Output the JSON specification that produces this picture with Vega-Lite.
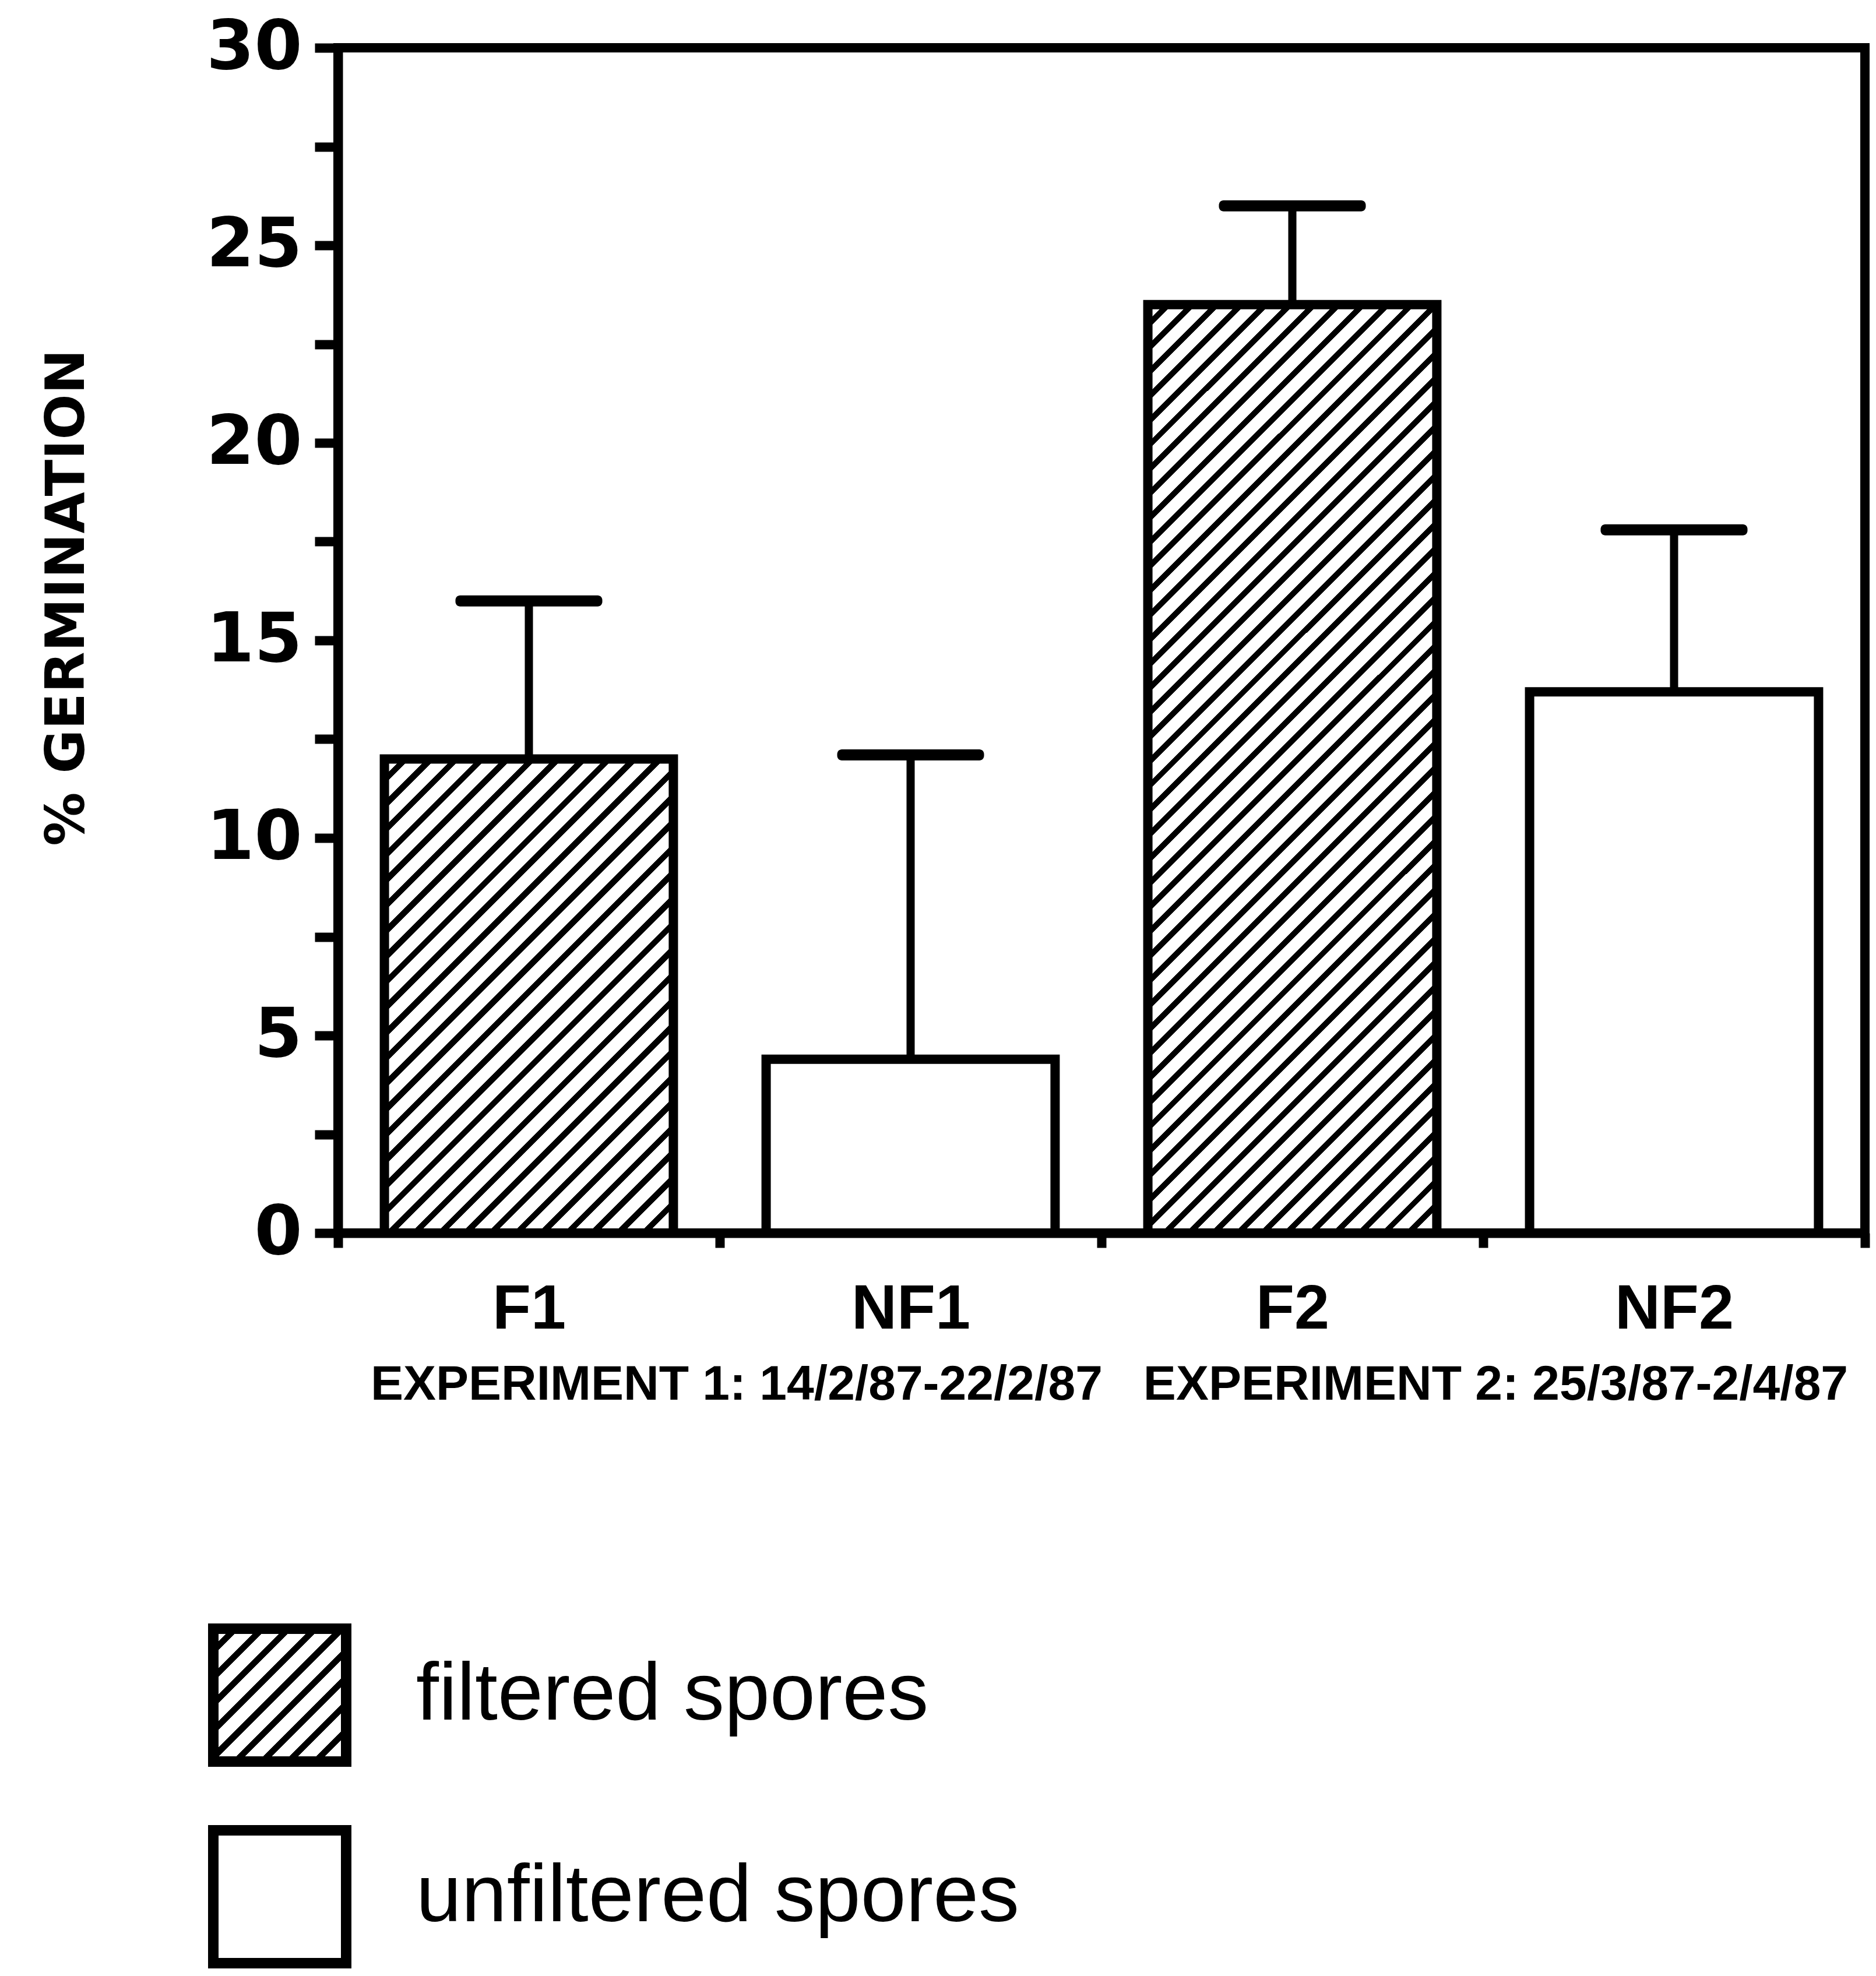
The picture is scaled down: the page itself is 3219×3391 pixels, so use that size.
{
  "$schema": "https://vega.github.io/schema/vega-lite/v6.json",
  "width": 2620,
  "height": 2034,
  "autosize": "none",
  "padding": {"left": 580, "top": 82, "right": 19, "bottom": 1275},
  "background": "white",
  "data": {
    "values": [
      {"cat": "F1", "group": "filtered spores", "value": 12, "upper": 16},
      {"cat": "NF1", "group": "unfiltered spores", "value": 4.4, "upper": 12.1},
      {"cat": "F2", "group": "filtered spores", "value": 23.5, "upper": 26},
      {"cat": "NF2", "group": "unfiltered spores", "value": 13.7, "upper": 17.8}
    ]
  },
  "encoding": {
    "x": {
      "field": "cat",
      "type": "nominal",
      "sort": ["F1", "NF1", "F2", "NF2"],
      "scale": {"paddingInner": 0, "paddingOuter": 0},
      "axis": {
        "title": "EXPERIMENT 1: 14/2/87-22/2/87\u00a0\u00a0\u00a0EXPERIMENT 2: 25/3/87-2/4/87",
        "tickBand": "extent",
        "labelAngle": 0,
        "labelLimit": 0,
        "domainColor": "black",
        "domainWidth": 16,
        "tickColor": "black",
        "tickWidth": 16,
        "tickSize": 25,
        "labelFont": "Liberation Sans Narrow, Liberation Sans",
        "labelFontWeight": "bold",
        "labelFontSize": 108,
        "labelColor": "black",
        "labelPadding": 53,
        "titleFont": "Liberation Sans",
        "titleFontWeight": "bold",
        "titleFontSize": 84,
        "titleColor": "black",
        "titlePadding": 34,
        "titleX": 1323
      }
    }
  },
  "layer": [
    {
      "mark": {"type": "bar", "stroke": "black", "strokeWidth": 16, "strokeJoin": "miter", "width": {"band": 0.757}},
      "encoding": {
        "y": {
          "field": "value",
          "type": "quantitative",
          "title": "% GERMINATION",
          "scale": {"domain": [0, 30], "nice": false},
          "axis": {
            "values": [0, 2.5, 5, 7.5, 10, 12.5, 15, 17.5, 20, 22.5, 25, 27.5, 30],
            "labelExpr": "datum.value % 5 === 0 ? format(datum.value, 'd') : ''",
            "grid": false,
            "domainColor": "black",
            "domainWidth": 16,
            "tickColor": "black",
            "tickWidth": 16,
            "tickSize": 40,
            "labelOverlap": false,
            "labelFlush": false,
            "labelFont": "DejaVu Sans",
            "labelFontWeight": "bold",
            "labelFontSize": 118,
            "labelColor": "black",
            "labelPadding": 22,
            "titleFont": "DejaVu Sans",
            "titleFontWeight": "bold",
            "titleFontSize": 92,
            "titleColor": "black",
            "titlePadding": 218,
            "titleY": 943
          }
        },
        "fill": {
          "field": "group",
          "type": "nominal",
          "scale": {
            "domain": ["filtered spores", "unfiltered spores"],
            "range": [
              {"expr": "{gradient: 'linear', x1: 0, y1: 0, x2: 1, y2: 1, stops: [{offset: 0, color: '#fff'}, {offset: 0.06667, color: '#fff'}, {offset: 0.06667, color: '#000'}, {offset: 0.1, color: '#000'}, {offset: 0.1, color: '#fff'}, {offset: 0.16667, color: '#fff'}, {offset: 0.16667, color: '#000'}, {offset: 0.2, color: '#000'}, {offset: 0.2, color: '#fff'}, {offset: 0.26667, color: '#fff'}, {offset: 0.26667, color: '#000'}, {offset: 0.3, color: '#000'}, {offset: 0.3, color: '#fff'}, {offset: 0.36667, color: '#fff'}, {offset: 0.36667, color: '#000'}, {offset: 0.4, color: '#000'}, {offset: 0.4, color: '#fff'}, {offset: 0.46667, color: '#fff'}, {offset: 0.46667, color: '#000'}, {offset: 0.5, color: '#000'}, {offset: 0.5, color: '#fff'}, {offset: 0.56667, color: '#fff'}, {offset: 0.56667, color: '#000'}, {offset: 0.6, color: '#000'}, {offset: 0.6, color: '#fff'}, {offset: 0.66667, color: '#fff'}, {offset: 0.66667, color: '#000'}, {offset: 0.7, color: '#000'}, {offset: 0.7, color: '#fff'}, {offset: 0.76667, color: '#fff'}, {offset: 0.76667, color: '#000'}, {offset: 0.8, color: '#000'}, {offset: 0.8, color: '#fff'}, {offset: 0.86667, color: '#fff'}, {offset: 0.86667, color: '#000'}, {offset: 0.9, color: '#000'}, {offset: 0.9, color: '#fff'}, {offset: 0.96667, color: '#fff'}, {offset: 0.96667, color: '#000'}, {offset: 1, color: '#000'}]}"},
              "white"
            ]
          },
          "condition": [
            {
              "test": "datum.cat === 'F1'",
              "value": {
                "gradient": "linear", "x1": 0, "y1": 0, "x2": 0.7152, "y2": 1.1736,
                "stops": [
                  {"offset": 0, "color": "#fff"}, {"offset": 0.02222, "color": "#fff"}, {"offset": 0.02222, "color": "#000"}, {"offset": 0.03333, "color": "#000"},
                  {"offset": 0.03333, "color": "#fff"}, {"offset": 0.05556, "color": "#fff"}, {"offset": 0.05556, "color": "#000"}, {"offset": 0.06667, "color": "#000"},
                  {"offset": 0.06667, "color": "#fff"}, {"offset": 0.08889, "color": "#fff"}, {"offset": 0.08889, "color": "#000"}, {"offset": 0.1, "color": "#000"},
                  {"offset": 0.1, "color": "#fff"}, {"offset": 0.12222, "color": "#fff"}, {"offset": 0.12222, "color": "#000"}, {"offset": 0.13333, "color": "#000"},
                  {"offset": 0.13333, "color": "#fff"}, {"offset": 0.15556, "color": "#fff"}, {"offset": 0.15556, "color": "#000"}, {"offset": 0.16667, "color": "#000"},
                  {"offset": 0.16667, "color": "#fff"}, {"offset": 0.18889, "color": "#fff"}, {"offset": 0.18889, "color": "#000"}, {"offset": 0.2, "color": "#000"},
                  {"offset": 0.2, "color": "#fff"}, {"offset": 0.22222, "color": "#fff"}, {"offset": 0.22222, "color": "#000"}, {"offset": 0.23333, "color": "#000"},
                  {"offset": 0.23333, "color": "#fff"}, {"offset": 0.25556, "color": "#fff"}, {"offset": 0.25556, "color": "#000"}, {"offset": 0.26667, "color": "#000"},
                  {"offset": 0.26667, "color": "#fff"}, {"offset": 0.28889, "color": "#fff"}, {"offset": 0.28889, "color": "#000"}, {"offset": 0.3, "color": "#000"},
                  {"offset": 0.3, "color": "#fff"}, {"offset": 0.32222, "color": "#fff"}, {"offset": 0.32222, "color": "#000"}, {"offset": 0.33333, "color": "#000"},
                  {"offset": 0.33333, "color": "#fff"}, {"offset": 0.35556, "color": "#fff"}, {"offset": 0.35556, "color": "#000"}, {"offset": 0.36667, "color": "#000"},
                  {"offset": 0.36667, "color": "#fff"}, {"offset": 0.38889, "color": "#fff"}, {"offset": 0.38889, "color": "#000"}, {"offset": 0.4, "color": "#000"},
                  {"offset": 0.4, "color": "#fff"}, {"offset": 0.42222, "color": "#fff"}, {"offset": 0.42222, "color": "#000"}, {"offset": 0.43333, "color": "#000"},
                  {"offset": 0.43333, "color": "#fff"}, {"offset": 0.45556, "color": "#fff"}, {"offset": 0.45556, "color": "#000"}, {"offset": 0.46667, "color": "#000"},
                  {"offset": 0.46667, "color": "#fff"}, {"offset": 0.48889, "color": "#fff"}, {"offset": 0.48889, "color": "#000"}, {"offset": 0.5, "color": "#000"},
                  {"offset": 0.5, "color": "#fff"}, {"offset": 0.52222, "color": "#fff"}, {"offset": 0.52222, "color": "#000"}, {"offset": 0.53333, "color": "#000"},
                  {"offset": 0.53333, "color": "#fff"}, {"offset": 0.55556, "color": "#fff"}, {"offset": 0.55556, "color": "#000"}, {"offset": 0.56667, "color": "#000"},
                  {"offset": 0.56667, "color": "#fff"}, {"offset": 0.58889, "color": "#fff"}, {"offset": 0.58889, "color": "#000"}, {"offset": 0.6, "color": "#000"},
                  {"offset": 0.6, "color": "#fff"}, {"offset": 0.62222, "color": "#fff"}, {"offset": 0.62222, "color": "#000"}, {"offset": 0.63333, "color": "#000"},
                  {"offset": 0.63333, "color": "#fff"}, {"offset": 0.65556, "color": "#fff"}, {"offset": 0.65556, "color": "#000"}, {"offset": 0.66667, "color": "#000"},
                  {"offset": 0.66667, "color": "#fff"}, {"offset": 0.68889, "color": "#fff"}, {"offset": 0.68889, "color": "#000"}, {"offset": 0.7, "color": "#000"},
                  {"offset": 0.7, "color": "#fff"}, {"offset": 0.72222, "color": "#fff"}, {"offset": 0.72222, "color": "#000"}, {"offset": 0.73333, "color": "#000"},
                  {"offset": 0.73333, "color": "#fff"}, {"offset": 0.75556, "color": "#fff"}, {"offset": 0.75556, "color": "#000"}, {"offset": 0.76667, "color": "#000"},
                  {"offset": 0.76667, "color": "#fff"}, {"offset": 0.78889, "color": "#fff"}, {"offset": 0.78889, "color": "#000"}, {"offset": 0.8, "color": "#000"},
                  {"offset": 0.8, "color": "#fff"}, {"offset": 0.82222, "color": "#fff"}, {"offset": 0.82222, "color": "#000"}, {"offset": 0.83333, "color": "#000"},
                  {"offset": 0.83333, "color": "#fff"}, {"offset": 0.85556, "color": "#fff"}, {"offset": 0.85556, "color": "#000"}, {"offset": 0.86667, "color": "#000"},
                  {"offset": 0.86667, "color": "#fff"}, {"offset": 0.88889, "color": "#fff"}, {"offset": 0.88889, "color": "#000"}, {"offset": 0.9, "color": "#000"},
                  {"offset": 0.9, "color": "#fff"}, {"offset": 0.92222, "color": "#fff"}, {"offset": 0.92222, "color": "#000"}, {"offset": 0.93333, "color": "#000"},
                  {"offset": 0.93333, "color": "#fff"}, {"offset": 0.95556, "color": "#fff"}, {"offset": 0.95556, "color": "#000"}, {"offset": 0.96667, "color": "#000"},
                  {"offset": 0.96667, "color": "#fff"}, {"offset": 0.98889, "color": "#fff"}, {"offset": 0.98889, "color": "#000"}, {"offset": 1, "color": "#000"}
                ]
              }
            },
            {
              "test": "datum.cat === 'F2'",
              "value": {
                "gradient": "linear", "x1": 0, "y1": 0, "x2": 0.372, "y2": 1.1955,
                "stops": [
                  {"offset": 0, "color": "#fff"}, {"offset": 0.01333, "color": "#fff"}, {"offset": 0.01333, "color": "#000"}, {"offset": 0.02, "color": "#000"},
                  {"offset": 0.02, "color": "#fff"}, {"offset": 0.03333, "color": "#fff"}, {"offset": 0.03333, "color": "#000"}, {"offset": 0.04, "color": "#000"},
                  {"offset": 0.04, "color": "#fff"}, {"offset": 0.05333, "color": "#fff"}, {"offset": 0.05333, "color": "#000"}, {"offset": 0.06, "color": "#000"},
                  {"offset": 0.06, "color": "#fff"}, {"offset": 0.07333, "color": "#fff"}, {"offset": 0.07333, "color": "#000"}, {"offset": 0.08, "color": "#000"},
                  {"offset": 0.08, "color": "#fff"}, {"offset": 0.09333, "color": "#fff"}, {"offset": 0.09333, "color": "#000"}, {"offset": 0.1, "color": "#000"},
                  {"offset": 0.1, "color": "#fff"}, {"offset": 0.11333, "color": "#fff"}, {"offset": 0.11333, "color": "#000"}, {"offset": 0.12, "color": "#000"},
                  {"offset": 0.12, "color": "#fff"}, {"offset": 0.13333, "color": "#fff"}, {"offset": 0.13333, "color": "#000"}, {"offset": 0.14, "color": "#000"},
                  {"offset": 0.14, "color": "#fff"}, {"offset": 0.15333, "color": "#fff"}, {"offset": 0.15333, "color": "#000"}, {"offset": 0.16, "color": "#000"},
                  {"offset": 0.16, "color": "#fff"}, {"offset": 0.17333, "color": "#fff"}, {"offset": 0.17333, "color": "#000"}, {"offset": 0.18, "color": "#000"},
                  {"offset": 0.18, "color": "#fff"}, {"offset": 0.19333, "color": "#fff"}, {"offset": 0.19333, "color": "#000"}, {"offset": 0.2, "color": "#000"},
                  {"offset": 0.2, "color": "#fff"}, {"offset": 0.21333, "color": "#fff"}, {"offset": 0.21333, "color": "#000"}, {"offset": 0.22, "color": "#000"},
                  {"offset": 0.22, "color": "#fff"}, {"offset": 0.23333, "color": "#fff"}, {"offset": 0.23333, "color": "#000"}, {"offset": 0.24, "color": "#000"},
                  {"offset": 0.24, "color": "#fff"}, {"offset": 0.25333, "color": "#fff"}, {"offset": 0.25333, "color": "#000"}, {"offset": 0.26, "color": "#000"},
                  {"offset": 0.26, "color": "#fff"}, {"offset": 0.27333, "color": "#fff"}, {"offset": 0.27333, "color": "#000"}, {"offset": 0.28, "color": "#000"},
                  {"offset": 0.28, "color": "#fff"}, {"offset": 0.29333, "color": "#fff"}, {"offset": 0.29333, "color": "#000"}, {"offset": 0.3, "color": "#000"},
                  {"offset": 0.3, "color": "#fff"}, {"offset": 0.31333, "color": "#fff"}, {"offset": 0.31333, "color": "#000"}, {"offset": 0.32, "color": "#000"},
                  {"offset": 0.32, "color": "#fff"}, {"offset": 0.33333, "color": "#fff"}, {"offset": 0.33333, "color": "#000"}, {"offset": 0.34, "color": "#000"},
                  {"offset": 0.34, "color": "#fff"}, {"offset": 0.35333, "color": "#fff"}, {"offset": 0.35333, "color": "#000"}, {"offset": 0.36, "color": "#000"},
                  {"offset": 0.36, "color": "#fff"}, {"offset": 0.37333, "color": "#fff"}, {"offset": 0.37333, "color": "#000"}, {"offset": 0.38, "color": "#000"},
                  {"offset": 0.38, "color": "#fff"}, {"offset": 0.39333, "color": "#fff"}, {"offset": 0.39333, "color": "#000"}, {"offset": 0.4, "color": "#000"},
                  {"offset": 0.4, "color": "#fff"}, {"offset": 0.41333, "color": "#fff"}, {"offset": 0.41333, "color": "#000"}, {"offset": 0.42, "color": "#000"},
                  {"offset": 0.42, "color": "#fff"}, {"offset": 0.43333, "color": "#fff"}, {"offset": 0.43333, "color": "#000"}, {"offset": 0.44, "color": "#000"},
                  {"offset": 0.44, "color": "#fff"}, {"offset": 0.45333, "color": "#fff"}, {"offset": 0.45333, "color": "#000"}, {"offset": 0.46, "color": "#000"},
                  {"offset": 0.46, "color": "#fff"}, {"offset": 0.47333, "color": "#fff"}, {"offset": 0.47333, "color": "#000"}, {"offset": 0.48, "color": "#000"},
                  {"offset": 0.48, "color": "#fff"}, {"offset": 0.49333, "color": "#fff"}, {"offset": 0.49333, "color": "#000"}, {"offset": 0.5, "color": "#000"},
                  {"offset": 0.5, "color": "#fff"}, {"offset": 0.51333, "color": "#fff"}, {"offset": 0.51333, "color": "#000"}, {"offset": 0.52, "color": "#000"},
                  {"offset": 0.52, "color": "#fff"}, {"offset": 0.53333, "color": "#fff"}, {"offset": 0.53333, "color": "#000"}, {"offset": 0.54, "color": "#000"},
                  {"offset": 0.54, "color": "#fff"}, {"offset": 0.55333, "color": "#fff"}, {"offset": 0.55333, "color": "#000"}, {"offset": 0.56, "color": "#000"},
                  {"offset": 0.56, "color": "#fff"}, {"offset": 0.57333, "color": "#fff"}, {"offset": 0.57333, "color": "#000"}, {"offset": 0.58, "color": "#000"},
                  {"offset": 0.58, "color": "#fff"}, {"offset": 0.59333, "color": "#fff"}, {"offset": 0.59333, "color": "#000"}, {"offset": 0.6, "color": "#000"},
                  {"offset": 0.6, "color": "#fff"}, {"offset": 0.61333, "color": "#fff"}, {"offset": 0.61333, "color": "#000"}, {"offset": 0.62, "color": "#000"},
                  {"offset": 0.62, "color": "#fff"}, {"offset": 0.63333, "color": "#fff"}, {"offset": 0.63333, "color": "#000"}, {"offset": 0.64, "color": "#000"},
                  {"offset": 0.64, "color": "#fff"}, {"offset": 0.65333, "color": "#fff"}, {"offset": 0.65333, "color": "#000"}, {"offset": 0.66, "color": "#000"},
                  {"offset": 0.66, "color": "#fff"}, {"offset": 0.67333, "color": "#fff"}, {"offset": 0.67333, "color": "#000"}, {"offset": 0.68, "color": "#000"},
                  {"offset": 0.68, "color": "#fff"}, {"offset": 0.69333, "color": "#fff"}, {"offset": 0.69333, "color": "#000"}, {"offset": 0.7, "color": "#000"},
                  {"offset": 0.7, "color": "#fff"}, {"offset": 0.71333, "color": "#fff"}, {"offset": 0.71333, "color": "#000"}, {"offset": 0.72, "color": "#000"},
                  {"offset": 0.72, "color": "#fff"}, {"offset": 0.73333, "color": "#fff"}, {"offset": 0.73333, "color": "#000"}, {"offset": 0.74, "color": "#000"},
                  {"offset": 0.74, "color": "#fff"}, {"offset": 0.75333, "color": "#fff"}, {"offset": 0.75333, "color": "#000"}, {"offset": 0.76, "color": "#000"},
                  {"offset": 0.76, "color": "#fff"}, {"offset": 0.77333, "color": "#fff"}, {"offset": 0.77333, "color": "#000"}, {"offset": 0.78, "color": "#000"},
                  {"offset": 0.78, "color": "#fff"}, {"offset": 0.79333, "color": "#fff"}, {"offset": 0.79333, "color": "#000"}, {"offset": 0.8, "color": "#000"},
                  {"offset": 0.8, "color": "#fff"}, {"offset": 0.81333, "color": "#fff"}, {"offset": 0.81333, "color": "#000"}, {"offset": 0.82, "color": "#000"},
                  {"offset": 0.82, "color": "#fff"}, {"offset": 0.83333, "color": "#fff"}, {"offset": 0.83333, "color": "#000"}, {"offset": 0.84, "color": "#000"},
                  {"offset": 0.84, "color": "#fff"}, {"offset": 0.85333, "color": "#fff"}, {"offset": 0.85333, "color": "#000"}, {"offset": 0.86, "color": "#000"},
                  {"offset": 0.86, "color": "#fff"}, {"offset": 0.87333, "color": "#fff"}, {"offset": 0.87333, "color": "#000"}, {"offset": 0.88, "color": "#000"},
                  {"offset": 0.88, "color": "#fff"}, {"offset": 0.89333, "color": "#fff"}, {"offset": 0.89333, "color": "#000"}, {"offset": 0.9, "color": "#000"},
                  {"offset": 0.9, "color": "#fff"}, {"offset": 0.91333, "color": "#fff"}, {"offset": 0.91333, "color": "#000"}, {"offset": 0.92, "color": "#000"},
                  {"offset": 0.92, "color": "#fff"}, {"offset": 0.93333, "color": "#fff"}, {"offset": 0.93333, "color": "#000"}, {"offset": 0.94, "color": "#000"},
                  {"offset": 0.94, "color": "#fff"}, {"offset": 0.95333, "color": "#fff"}, {"offset": 0.95333, "color": "#000"}, {"offset": 0.96, "color": "#000"},
                  {"offset": 0.96, "color": "#fff"}, {"offset": 0.97333, "color": "#fff"}, {"offset": 0.97333, "color": "#000"}, {"offset": 0.98, "color": "#000"},
                  {"offset": 0.98, "color": "#fff"}, {"offset": 0.99333, "color": "#fff"}, {"offset": 0.99333, "color": "#000"}, {"offset": 1, "color": "#000"}
                ]
              }
            }
          ],
          "legend": {
            "orient": "none",
            "legendX": -223,
            "legendY": 2704,
            "title": null,
            "padding": 0,
            "symbolType": "square",
            "symbolSize": 51984,
            "symbolStrokeWidth": 18,
            "symbolStrokeColor": "black",
            "symbolOpacity": 1,
            "labelFont": "Liberation Sans",
            "labelFontSize": 140,
            "labelColor": "black",
            "labelLimit": 3000,
            "labelOffset": 111,
            "rowPadding": 46
          }
        }
      }
    },
    {
      "mark": {"type": "rule", "color": "black", "strokeWidth": 14},
      "encoding": {
        "y": {"field": "value", "type": "quantitative", "title": "% GERMINATION"},
        "y2": {"field": "upper"}
      }
    },
    {
      "mark": {"type": "tick", "color": "black", "orient": "horizontal", "size": 252, "thickness": 19, "cornerRadius": 8, "opacity": 1},
      "encoding": {
        "y": {"field": "upper", "type": "quantitative", "title": "% GERMINATION"}
      }
    }
  ],
  "config": {
    "view": {"stroke": "black", "strokeWidth": 16},
    "axis": {"grid": false}
  }
}
